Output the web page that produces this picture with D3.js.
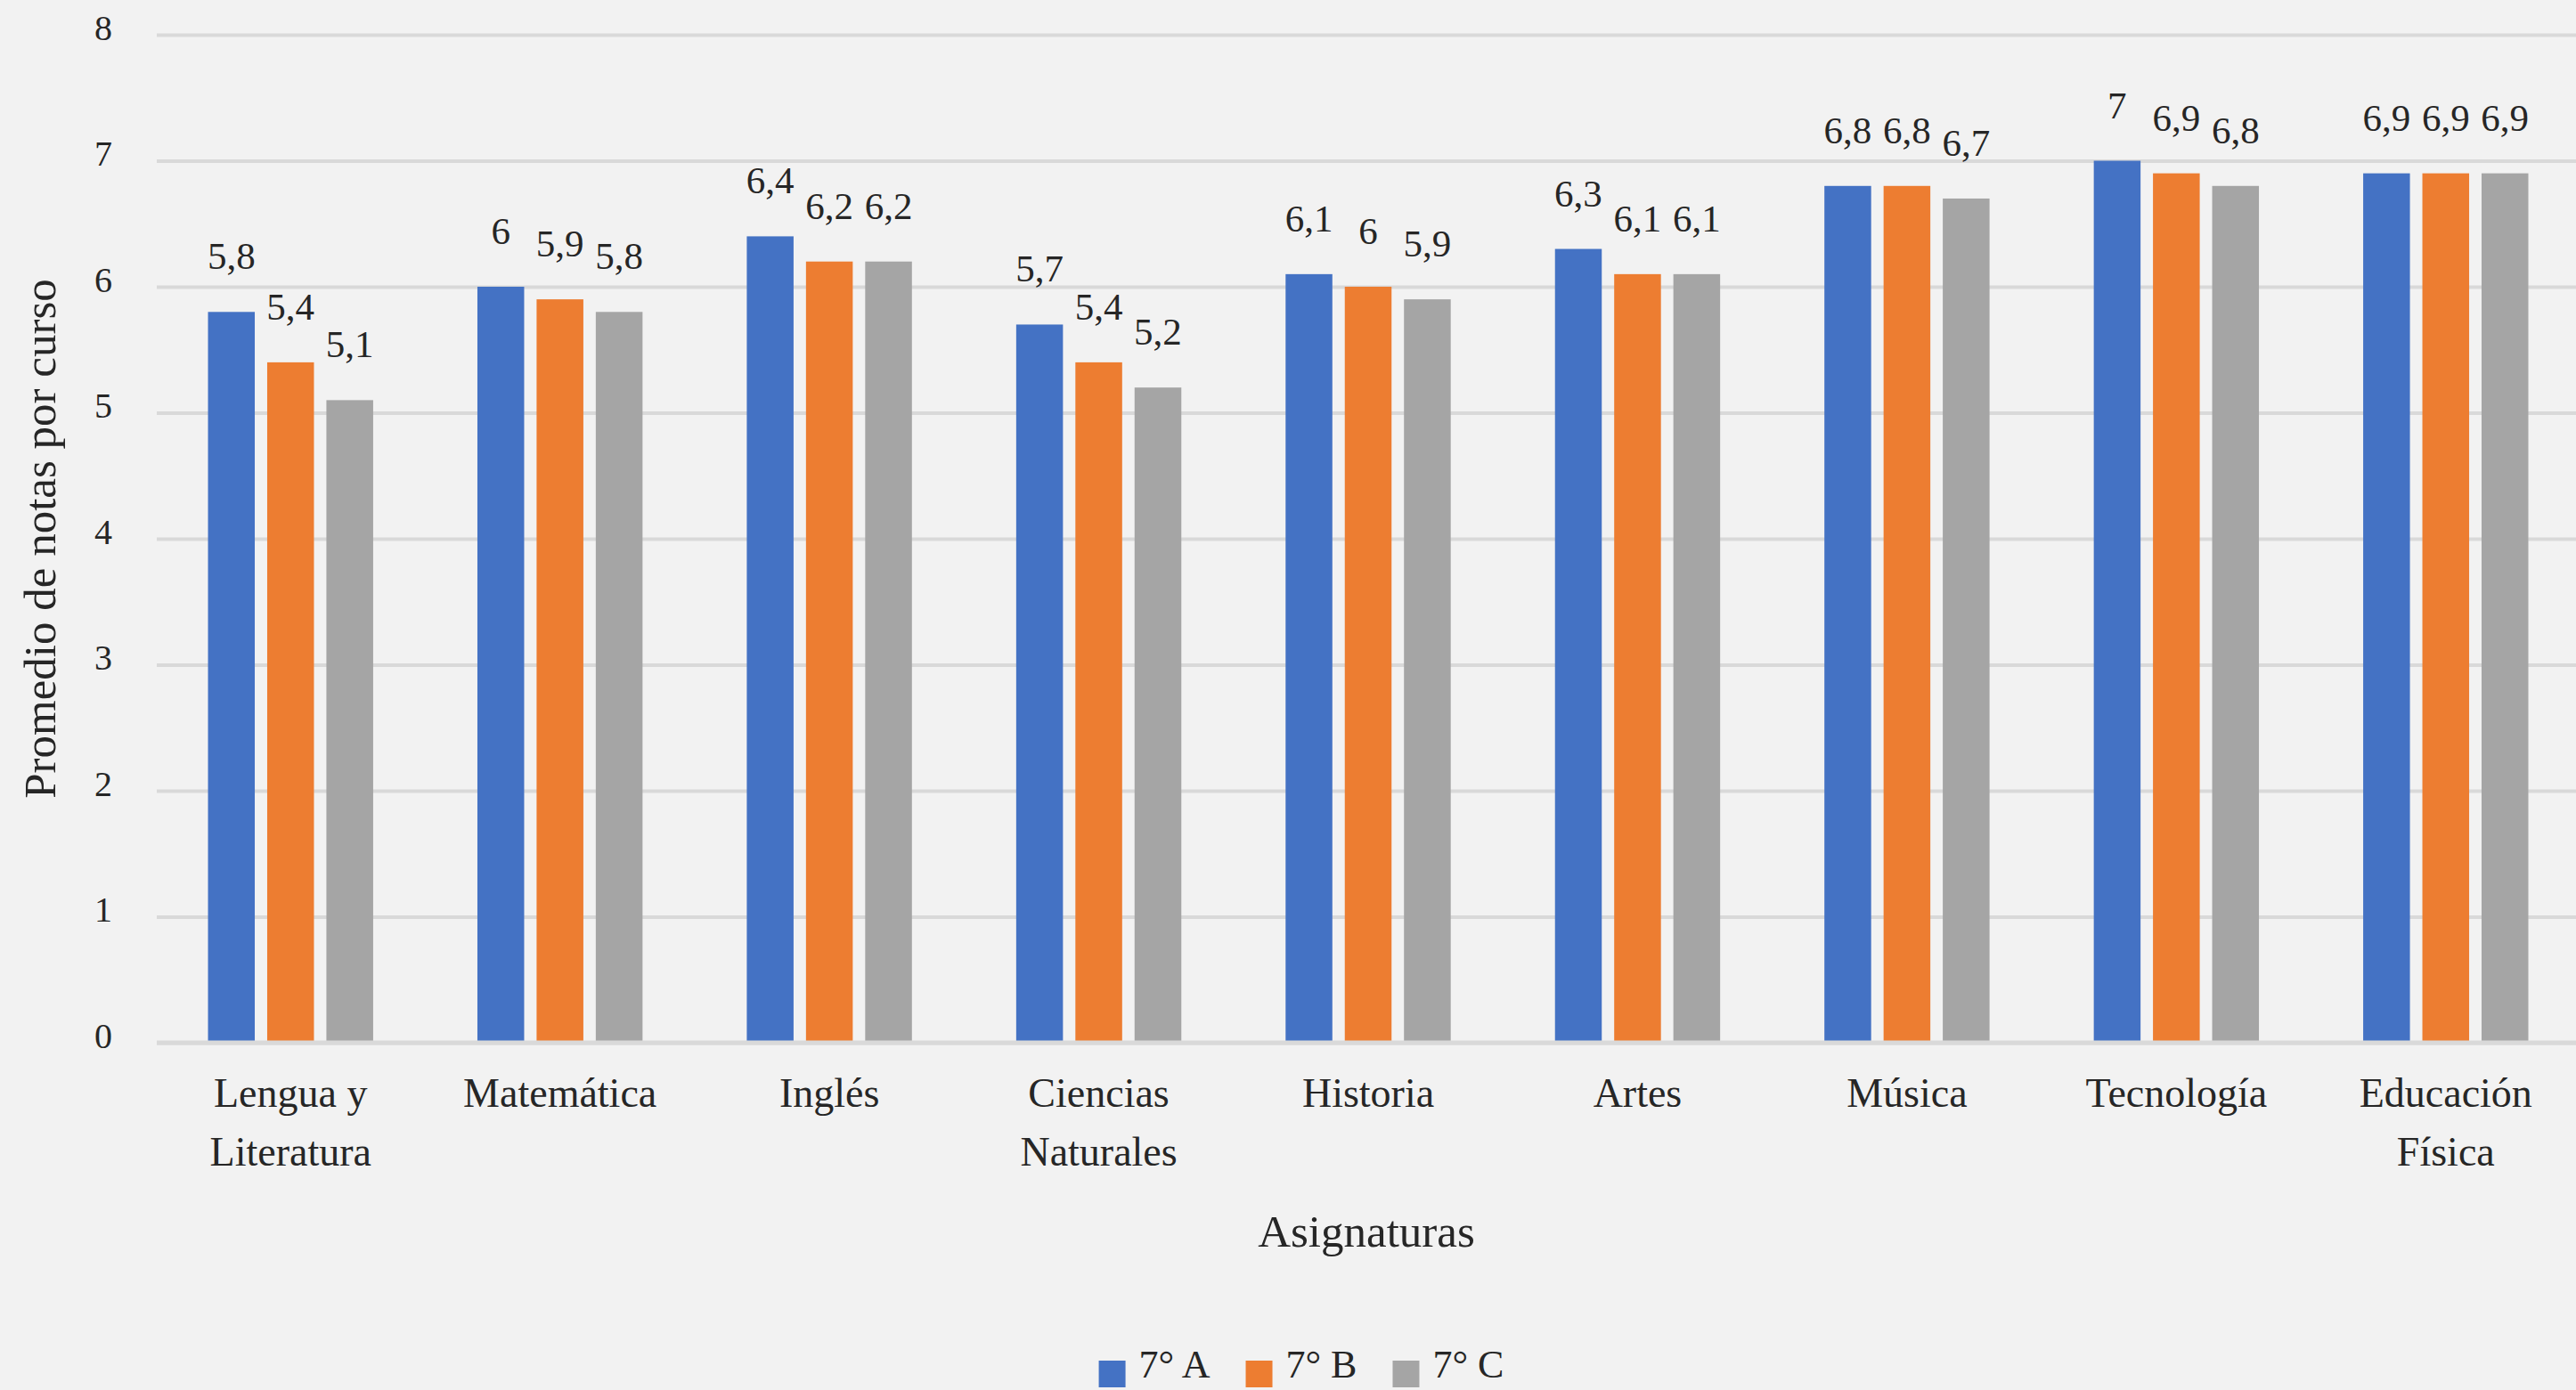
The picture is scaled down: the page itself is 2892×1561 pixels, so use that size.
<!DOCTYPE html>
<html>
<head>
<meta charset="utf-8">
<script src="https://cdn.jsdelivr.net/npm/d3@7"></script>
<style>
  html, body { margin: 0; padding: 0; background: #f2f2f2; }
  svg { display: block; }
  text { font-family: "Liberation Serif", "DejaVu Serif", serif; fill: #262626; }
</style>
</head>
<body>
<script>
// ---- Data ----
const categories = [
  ["Lengua y", "Literatura"],
  ["Matemática"],
  ["Inglés"],
  ["Ciencias", "Naturales"],
  ["Historia"],
  ["Artes"],
  ["Música"],
  ["Tecnología"],
  ["Educación", "Física"]
];
const seriesNames = ["7° A", "7° B", "7° C"];
const valuesA = [5.8, 6.0, 6.4, 5.7, 6.1, 6.3, 6.8, 7.0, 6.9];
const valuesB = [5.4, 5.9, 6.2, 5.4, 6.0, 6.1, 6.8, 6.9, 6.9];
const valuesC = [5.1, 5.8, 6.2, 5.2, 5.9, 6.1, 6.7, 6.8, 6.9];
const yTicks = [0, 1, 2, 3, 4, 5, 6, 7, 8];
const colors = ["#4472c4", "#ed7d31", "#a5a5a5"];
const yTitle = "Promedio de notas por curso";
const xTitle = "Asignaturas";

// ---- Layout ----
const W = 2892, H = 1561;
const plot = { left: 175, right: 2897, top: 39, bottom: 1171 };

const svg = d3.select("body").append("svg").attr("width", W).attr("height", H);
svg.append("rect").attr("width", W).attr("height", H).attr("fill", "#f2f2f2");

const catKeys = categories.map(c => c.join(" "));
const x0 = d3.scaleBand().domain(catKeys).range([plot.left, plot.right])
  .paddingInner(0.387).paddingOuter(0.1935);
const x1 = d3.scaleBand().domain(seriesNames).range([0, x0.bandwidth()])
  .paddingInner(0.21).paddingOuter(0);
const y = d3.scaleLinear().domain([0, 8]).range([plot.bottom, plot.top]);

// gridlines
const yAxis = d3.axisLeft(y).tickValues(yTicks).tickSize(-(W - 176)).tickFormat(d => d);
const gy = svg.append("g").attr("transform", `translate(176,0)`).call(yAxis);
gy.select(".domain").remove();
gy.selectAll(".tick line").attr("stroke", "#d9d9d9").attr("stroke-width", 4);
gy.selectAll(".tick text")
  .attr("x", -50).attr("dy", "5").attr("text-anchor", "end")
  .style("font-family", '"Liberation Serif", serif')
  .style("font-size", "40px").attr("fill", "#262626");

// bars
const seriesVals = [valuesA, valuesB, valuesC];
const rows = catKeys.map((k, i) => ({ key: k, vals: seriesNames.map((s, j) => ({ s, j, v: seriesVals[j][i] })) }));

const groups = svg.append("g").selectAll("g").data(rows).join("g")
  .attr("transform", d => `translate(${x0(d.key)},0)`);

groups.selectAll("rect").data(d => d.vals).join("rect")
  .attr("x", d => x1(d.s))
  .attr("y", d => y(d.v))
  .attr("width", x1.bandwidth())
  .attr("height", d => y(0) - y(d.v))
  .attr("fill", d => colors[d.j]);

groups.selectAll("text.lbl").data(d => d.vals).join("text")
  .attr("class", "lbl")
  .attr("x", d => x1(d.s) + x1.bandwidth() / 2)
  .attr("y", d => y(d.v) - 48)
  .attr("text-anchor", "middle")
  .style("font-size", "43px")
  .text(d => String(d.v).replace(".", ","));

// baseline
svg.append("line")
  .attr("x1", 176).attr("x2", W)
  .attr("y1", y(0)).attr("y2", y(0))
  .attr("stroke", "#d9d9d9").attr("stroke-width", 5);

// category labels
const xAxis = d3.axisBottom(x0).tickSize(0).tickFormat("");
const gx = svg.append("g").attr("transform", `translate(0,${plot.bottom})`).call(xAxis);
gx.select(".domain").remove();
gx.selectAll(".tick").each(function(d, i) {
  const t = d3.select(this).append("text")
    .attr("text-anchor", "middle")
    .style("font-size", "46px")
    .attr("fill", "#262626");
  categories[i].forEach((line, li) => {
    t.append("tspan").attr("x", 0).attr("y", 72 + li * 66).text(line);
  });
});

// axis titles
svg.append("text")
  .attr("x", (plot.left + plot.right) / 2 - 2)
  .attr("y", 1400)
  .attr("text-anchor", "middle")
  .style("font-size", "51px")
  .text(xTitle);

svg.append("text")
  .attr("transform", `translate(62,${(plot.top + plot.bottom) / 2}) rotate(-90)`)
  .attr("text-anchor", "middle")
  .style("font-size", "51px")
  .text(yTitle);

// legend
const legend = svg.append("g");
let lx = 0;
seriesNames.forEach((s, i) => {
  const g = legend.append("g").attr("transform", `translate(${lx},0)`);
  g.append("rect").attr("x", 0).attr("y", 1528).attr("width", 30).attr("height", 30).attr("fill", colors[i]);
  const t = g.append("text").attr("x", 45).attr("y", 1547).style("font-size", "44px").text(s);
  lx += 45 + t.node().getComputedTextLength() + 40;
});
const legendW = lx - 40;
legend.attr("transform", `translate(${1461 - legendW / 2},0)`);
</script>
</body>
</html>
